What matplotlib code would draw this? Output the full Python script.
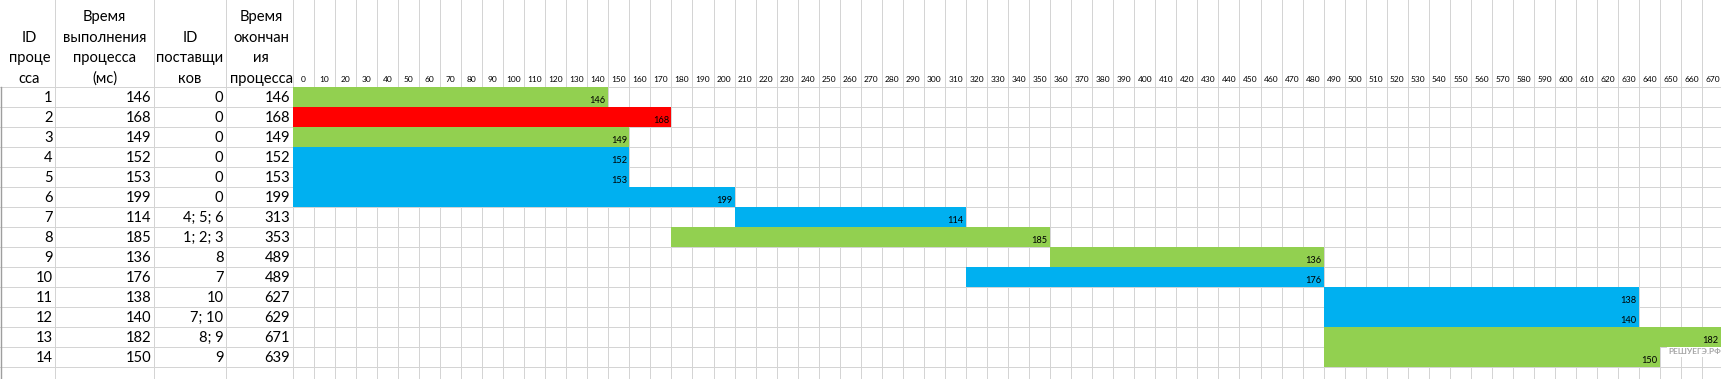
import matplotlib
matplotlib.use("Agg")
import matplotlib.pyplot as plt

plt.rcParams['font.family'] = ['Lato', 'DejaVu Sans']

# таблица процессов
proc_id = [1, 2, 3, 4, 5, 6, 7, 8, 9, 10, 11, 12, 13, 14]
duration = [146, 168, 149, 152, 153, 199, 114, 185, 136, 176, 138, 140, 182, 150]
suppliers = ["0", "0", "0", "0", "0", "0", "4; 5; 6", "1; 2; 3", "8", "7", "10", "7; 10", "8; 9", "9"]
finish = [146, 168, 149, 152, 153, 199, 313, 353, 489, 489, 627, 629, 671, 639]

# закрашенные ячейки диаграммы (мс, по 10 мс на ячейку)
bar_start = [0, 0, 0, 0, 0, 0, 210, 180, 360, 320, 490, 490, 490, 490]
bar_end = [150, 180, 160, 160, 160, 210, 320, 360, 490, 490, 640, 640, 680, 650]
bar_color = ["green", "red", "green", "blue", "blue", "blue", "blue",
             "green", "green", "blue", "blue", "blue", "green", "green"]
time_ticks = list(range(0, 680, 10))

headers = [
    ["ID", "проце", "сса"],
    ["Время", "выполнения", "процесса", "(мс)"],
    ["ID", "поставщи", "ков"],
    ["Время", "окончан", "ия", "процесса"],
]

palette = {"green": "#92D050", "red": "#FF0000", "blue": "#00B0F0"}
grid_c = "#D4D4D4"

W, H = 1721, 379
x0 = 292.7          # начало диаграммы, px
cell = 21.04        # ширина ячейки, px
head_h = 87.0
row_h = 20.0
col_edges = [0, 55, 154, 226, x0]

fig = plt.figure(figsize=(W / 100, H / 100), dpi=100)
ax_t = fig.add_axes([0, 0, x0 / W, 1])
ax_g = fig.add_axes([x0 / W, 0, 1 - x0 / W, 1], sharey=ax_t)
ax_t.set_xlim(0, x0)
xmax = (W - x0) / cell * 10
ax_g.set_xlim(0, xmax)
ax_t.set_ylim((H - head_h) / row_h, -head_h / row_h)
for ax in (ax_t, ax_g):
    ax.set_axis_off()

n = len(proc_id)
ybot = (H - head_h) / row_h
ytop = -head_h / row_h

# сетка
lw = 0.72
for xe in col_edges[1:-1]:
    ax_t.plot([xe, xe], [ytop, ybot], color=grid_c, lw=lw, zorder=1)
for r in range(0, n + 2):
    ax_t.plot([0, x0], [r, r], color=grid_c, lw=lw, zorder=1)
    ax_g.plot([0, xmax], [r, r], color=grid_c, lw=lw, zorder=1)
for t in time_ticks + [time_ticks[-1] + 10]:
    ax_g.plot([t, t], [ytop, ybot], color=grid_c, lw=lw, zorder=1)
# граница заголовков строк
ax_t.plot([0.5, 0.5], [0, ybot], color="#9E9E9E", lw=1.0, zorder=2)

# заголовки таблицы
for j, lines in enumerate(headers):
    xc = (col_edges[j] + col_edges[j + 1]) / 2 + (2 if j in (0, 3) else 0)
    for k, line in enumerate(reversed(lines)):
        ax_t.text(xc, -0.4 - k * 1.03, line, ha="center", va="center",
                  fontsize=10.6, color="black")

# значения таблицы
cols = [proc_id, duration, suppliers, finish]
for j, col in enumerate(cols):
    xr = col_edges[j + 1] - 2.5
    for i, v in enumerate(col):
        ax_t.text(xr, i + 0.55, str(v), ha="right", va="center",
                  fontsize=10.6, color="black")

# шкала времени
for t in time_ticks:
    ax_g.text(t + 5, -0.38, str(t), ha="center", va="center",
              fontsize=6.0, color="black")

# полосы
rows = [i + 0.5 for i in range(n)]
bars = ax_g.barh(rows, [e - s for s, e in zip(bar_start, bar_end)], left=bar_start,
                 height=1.0, color=[palette[c] for c in bar_color], lw=0, zorder=3)
for b in bars:
    b.set_antialiased(False)

for i, (e, d) in enumerate(zip(bar_end, duration)):
    ax_g.annotate(str(d), (min(e, xmax), i + 0.66), xytext=(-1.8, 0),
                  textcoords="offset points", ha="right", va="center",
                  fontsize=6.7, color="black", zorder=4)

# водяной знак
fig.text(1695 / W, 1 - 352 / H, "РЕШУЕГЭ.РФ", ha="center", va="center",
         fontsize=6.0, fontweight="bold", color="#A6A6A6",
         bbox=dict(facecolor="white", edgecolor="none", pad=1.0))

fig.savefig("out.png", dpi=100)
